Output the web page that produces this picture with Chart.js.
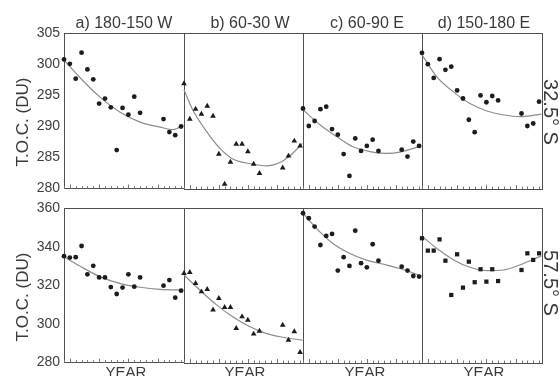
<!DOCTYPE html>
<html><head><meta charset="utf-8">
<script src="https://cdn.jsdelivr.net/npm/chart.js@4.4.1/dist/chart.umd.min.js"></script>
<style>
html,body{margin:0;padding:0;background:#fff;}
#wrap{position:relative;width:560px;height:376px;overflow:hidden;background:#fff;font-family:"Liberation Sans",Arial,sans-serif;color:#3a3a3a;}
#wrap canvas{position:absolute;}
.t{position:absolute;white-space:nowrap;line-height:1;transform:translate(-50%,-50%);}
</style></head>
<body><div id="wrap"></div>
<script>
// ---- data ----
const years = [1979,1980,1981,1982,1983,1984,1985,1986,1987,1988,1989,1990,1991,1992,1996,1997,1998,1999];
const panelTitles = ['a) 180-150 W','b) 60-30 W','c) 60-90 E','d) 150-180 E'];
const rowLabels = ['32.5\u00B0 S','57.5\u00B0 S'];
const yAxisTitle = 'T.O.C. (DU)';
const xAxisTitle = 'YEAR';
const topTicks = [280,285,290,295,300,305];
const bottomTicks = [280,300,320,340,360];

const topA = [300.8,300.1,297.7,301.9,299.2,297.6,293.7,294.5,293.1,286.2,293.0,291.9,294.8,292.2,291.2,289.1,288.6,290.0];
const topB = [296.9,291.2,292.8,292.0,293.3,291.7,285.6,280.8,284.3,287.2,287.2,286.0,284.0,282.5,283.4,285.3,287.7,286.9];
const topC = [292.9,290.1,290.9,292.8,293.2,289.6,288.7,285.6,282.1,288.1,286.1,286.9,287.9,286.1,286.3,285.2,287.6,286.9];
const topD = [301.8,300.0,297.8,300.8,299.1,299.6,295.8,294.5,291.1,289.1,295.0,293.9,294.9,294.2,292.1,290.1,290.5,294.0];
const botA = [335.2,334.5,334.7,340.5,325.8,330.2,324.2,324.2,319.2,315.6,318.9,325.8,319.4,324.2,319.9,322.8,313.7,317.3];
const botB = [326.3,326.8,321.1,316.8,318.0,307.4,313.4,308.7,308.7,297.9,303.9,302.2,295.0,296.5,299.6,291.8,296.2,285.5];
const botC = [357.3,354.7,350.4,340.9,345.6,346.6,327.7,334.6,330.1,348.3,331.5,329.4,341.3,332.8,329.7,327.7,324.9,324.6];
const botD = [344.4,338.0,338.0,343.8,332.8,315.1,336.1,318.9,332.3,321.7,328.4,322.0,328.4,322.3,328.0,336.6,333.2,336.6];

const fitYearsTopA = [1979,1981.7,1985.2,1988.6,1992,1995.4,1997.6,1999.4];
const fitTopA      = [300.7,297.9,294.7,292.3,290.7,289.9,289.5,290.2];
const fitYearsTopB = [1979,1980.5,1982.9,1985.2,1987.4,1990.8,1993.2,1995.4,1997.1,1999.4];
const fitTopB      = [295.9,292.7,289.2,286.5,284.8,284.0,283.7,284.2,285.2,287.3];
const fitYearsTopC = [1979,1981.9,1984.8,1987.5,1990.5,1993.4,1996.1,1999.4];
const fitTopC      = [292.7,290.3,288.4,286.8,286.0,285.7,286.0,286.9];
const fitYearsTopD = [1979,1981.5,1984.3,1987.2,1990.1,1992.8,1995.8,1999.4];
const fitTopD      = [301.5,298.0,295.6,293.7,292.5,291.9,291.6,292.0];
const fitYearsBotA = [1979,1981.7,1985.1,1988.5,1992,1995.4,1999.4];
const fitBotA      = [334.9,330.1,324.6,321.1,319.1,318.0,317.7];
const fitYearsBotB = [1979,1981.7,1984.6,1987.4,1990.3,1993.1,1996,1999.4];
const fitBotB      = [325.4,317.7,310.0,303.9,298.8,295.3,293.3,291.8];
const fitYearsBotC = [1979,1981.3,1984.1,1987,1989.8,1992.7,1995.5,1999.4];
const fitBotC      = [357.3,349.5,341.8,336.6,333.2,331.1,328.9,325.0];
const fitYearsBotD = [1979,1981.5,1984.4,1987.2,1990,1992.9,1995.7,1999.4];
const fitBotD      = [345.4,339.2,333.2,329.4,327.7,328.0,330.6,335.3];

// ---- layout ----
const colLefts = [64,184,303,422], colRights = [184,303,422,542];
const rowTops = [33,208], rowBottoms = [189,363];
const wrap = document.getElementById('wrap');

const framePlugin = {
  id:'frame',
  beforeDatasetsDraw(chart){
    const {ctx, chartArea:a, scales:{x}} = chart;
    ctx.save();
    ctx.strokeStyle = '#505050'; ctx.lineWidth = 1;
    ctx.strokeRect(Math.round(a.left)+0.5, Math.round(a.top)+0.5, Math.round(a.right-a.left), Math.round(a.bottom-a.top));
    ctx.strokeStyle = '#777';
    ctx.beginPath();
    for (let yr = Math.ceil(x.min); yr <= x.max; yr++) {
      const px = Math.round(x.getPixelForValue(yr)) + 0.5;
      const len = (yr % 5 === 0) ? 4 : 2.5;
      ctx.moveTo(px, a.bottom); ctx.lineTo(px, a.bottom - len);
    }
    ctx.stroke();
    ctx.restore();
  }
};

function panel(row, col, vals, fitX, fitY, style){
  const pad = 12, axisW = 40, isLeft = col === 0;
  const left = colLefts[col], right = colRights[col], top = rowTops[row], bottom = rowBottoms[row];
  const cl = left - (isLeft ? axisW : pad);
  const w = right - cl + pad, ct = top - pad, h = bottom - top + 2*pad;
  const cv = document.createElement('canvas');
  cv.width = w; cv.height = h;
  cv.style.left = cl+'px'; cv.style.top = ct+'px'; cv.style.width = w+'px'; cv.style.height = h+'px';
  wrap.appendChild(cv);
  const tickVals = row === 0 ? topTicks : bottomTicks;
  const yScale = {type:'linear', min:tickVals[0], max:tickVals[tickVals.length-1], display:isLeft,
           afterBuildTicks:s=>{s.ticks = tickVals.map(v=>({value:v}));},
           grid:{display:false, drawTicks:false}, border:{display:false},
           ticks:{padding:4, autoSkip:false, color:'#404040', font:{family:'Liberation Sans', size:14}}};
  if (isLeft) yScale.afterFit = s=>{s.width = axisW;};
  new Chart(cv, {
    type:'scatter',
    data:{datasets:[
      {data: fitX.map((x,i)=>({x, y:fitY[i]})), showLine:true, pointRadius:0, borderColor:'#8c8c8c',
       borderWidth:1.2, cubicInterpolationMode:'monotone', clip:false, order:2},
      {data: years.map((x,i)=>({x, y:vals[i]})), pointStyle:style,
       pointRadius: style==='triangle' ? 3.3 : (style==='rect' ? 3 : 2.4),
       backgroundColor:'#1c1c1c', borderColor:'#1c1c1c', borderWidth:0, clip:false, order:1}
    ]},
    options:{
      responsive:false, animation:false, events:[], devicePixelRatio:1,
      layout:{padding:{left: isLeft ? 0 : pad, right:pad, top:pad, bottom:pad}},
      plugins:{legend:{display:false}, tooltip:{enabled:false}},
      scales:{
        x:{type:'linear', min:1979, max:1999.5, display:false},
        y:yScale
      }
    },
    plugins:[framePlugin]
  });
}

const rows = [[topA,topB,topC,topD],[botA,botB,botC,botD]];
const fitsX = [[fitYearsTopA,fitYearsTopB,fitYearsTopC,fitYearsTopD],[fitYearsBotA,fitYearsBotB,fitYearsBotC,fitYearsBotD]];
const fitsY = [[fitTopA,fitTopB,fitTopC,fitTopD],[fitBotA,fitBotB,fitBotC,fitBotD]];
const styles = [['circle','triangle','circle','circle'],['circle','triangle','circle','rect']];
for (let r=0;r<2;r++) for (let c=0;c<4;c++) panel(r,c,rows[r][c],fitsX[r][c],fitsY[r][c],styles[r][c]);

// ---- text ----
function txt(s, cx, cy, size, rot){
  const d = document.createElement('div');
  d.className = 't'; d.textContent = s;
  d.style.left = cx+'px'; d.style.top = cy+'px'; d.style.fontSize = size+'px';
  if (rot) d.style.transform = 'translate(-50%,-50%) rotate('+rot+'deg)';
  wrap.appendChild(d);
}
const titleX = [124,250,367,484];
panelTitles.forEach((s,i)=>txt(s, titleX[i], 23, 16));
txt(yAxisTitle, 22, 122, 17, -90);
txt(yAxisTitle, 22, 297, 17, -90);
txt(rowLabels[0], 551, 112, 20, 90);
txt(rowLabels[1], 551, 283, 20, 90);
const yearX = [126,245,365,484];
yearX.forEach(x=>txt(xAxisTitle, x, 371, 15));
</script>
</body></html>
